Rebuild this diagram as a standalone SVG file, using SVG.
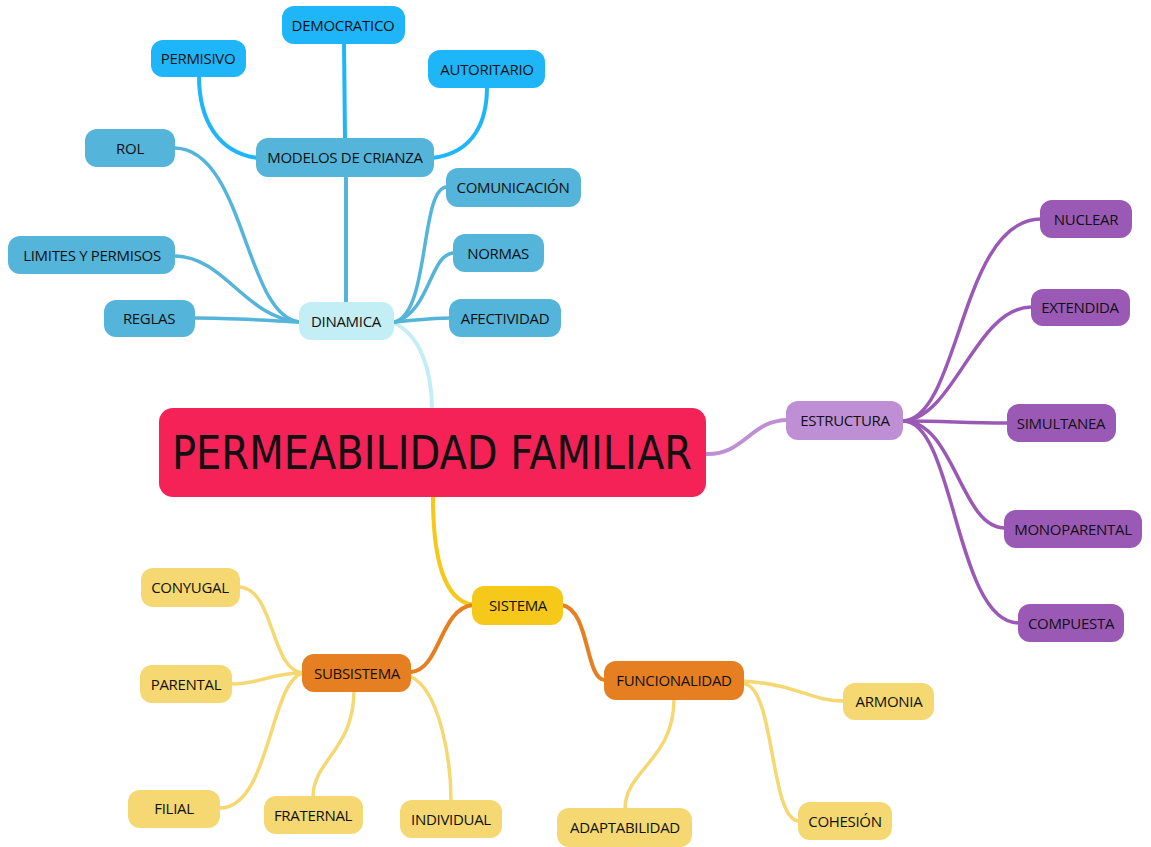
<svg xmlns="http://www.w3.org/2000/svg" width="1151" height="847" viewBox="0 0 1151 847">
<style>
.t{font-family:"Open Sans","Liberation Sans",sans-serif;font-size:15px;fill:#111;text-anchor:middle;dominant-baseline:central;letter-spacing:-0.3px}
.c{fill:none;stroke-linecap:round}
.b1{fill:#1EB6F9}.b2{fill:#54B4D9}.b3{fill:#C4EEF6}
.p1{fill:#BF8FD5}.p2{fill:#9B59B6}
.y1{fill:#F6C81A}.o1{fill:#E67E22}.y2{fill:#F5D872}
</style>
<rect width="1151" height="847" fill="#fff"/>
<g id="connectors">
<path class="c" stroke="#C4EEF6" stroke-width="4" d="M432,410 C432,370 420,335 394,323"/>
<path class="c" stroke="#F6C81A" stroke-width="4" d="M433,497 C433,560 445,602 474,605"/>
<path class="c" stroke="#BF8FD5" stroke-width="4" d="M706,454 C745,455 750,420 788,420"/>
<path class="c" stroke="#54B4D9" stroke-width="4" d="M346,304 L346,176"/>
<path class="c" stroke="#1EB6F9" stroke-width="4" d="M345,140 L344,42"/>
<path class="c" stroke="#1EB6F9" stroke-width="4" d="M258,158 C218,153 199,120 199,76"/>
<path class="c" stroke="#1EB6F9" stroke-width="4" d="M432,158 C475,153 487,120 487,87"/>
<g stroke="#54B4D9" stroke-width="3.5" fill="none" stroke-linecap="round">
<path d="M300,322 C245,318 245,150 175,148"/>
<path d="M300,322 C245,318 225,257 175,256"/>
<path d="M300,322 C260,320 230,318 195,318"/>
<path d="M395,322 C430,312 420,187 447,187"/>
<path d="M395,322 C430,312 430,253 454,253"/>
<path d="M395,322 C420,320 430,318 450,318"/>
</g>
<g stroke="#9B59B6" stroke-width="3.5" fill="none" stroke-linecap="round">
<path d="M903,421 C960,418 960,219 1041,219"/>
<path d="M903,421 C955,418 975,307 1032,307"/>
<path d="M903,421 C950,421 960,423 1008,423"/>
<path d="M903,421 C955,421 960,528 1005,528"/>
<path d="M903,421 C955,421 955,623 1019,623"/>
</g>
<path class="c" stroke="#E67E22" stroke-width="4" d="M473,605 C440,608 440,670 411,672"/>
<path class="c" stroke="#E67E22" stroke-width="4" d="M562,605 C590,610 585,680 605,680"/>
<g stroke="#F5D872" stroke-width="3.5" fill="none" stroke-linecap="round">
<path d="M303,673 C270,670 275,590 240,587"/>
<path d="M303,673 C270,673 260,684 232,684"/>
<path d="M303,673 C270,680 270,808 220,808"/>
<path d="M354,690 C354,750 313,760 313,797"/>
<path d="M410,676 C440,690 451,760 451,801"/>
<path d="M744,681 C800,685 810,701 844,701"/>
<path d="M674,699 C674,760 625,770 625,809"/>
<path d="M745,684 C775,690 770,821 799,821"/>
</g>
</g>
<g id="central"><rect x="159" y="408" width="547" height="89" rx="14" fill="#F52257"/><text x="432" y="453" font-family="'Liberation Sans Narrow','DejaVu Sans Condensed',sans-serif" font-size="46" fill="#111" text-anchor="middle" dominant-baseline="central" textLength="520" lengthAdjust="spacingAndGlyphs">PERMEABILIDAD FAMILIAR</text></g>
<g id="dinamica"><rect class="b3" x="299" y="302" width="95" height="38" rx="12"/><text class="t" x="346" y="321">DINAMICA</text></g>
<g id="modelos"><rect class="b2" x="256" y="138" width="178" height="39" rx="12"/><text class="t" x="345" y="157">MODELOS DE CRIANZA</text></g>
<g id="democratico"><rect class="b1" x="282" y="6" width="123" height="38" rx="12"/><text class="t" x="343" y="25">DEMOCRATICO</text></g>
<g id="permisivo"><rect class="b1" x="151" y="40" width="95" height="37" rx="12"/><text class="t" x="198" y="58">PERMISIVO</text></g>
<g id="autoritario"><rect class="b1" x="428" y="50" width="117" height="38" rx="12"/><text class="t" x="487" y="69">AUTORITARIO</text></g>
<g id="rol"><rect class="b2" x="85" y="129" width="90" height="38" rx="12"/><text class="t" x="130" y="148">ROL</text></g>
<g id="limites"><rect class="b2" x="8" y="236" width="167" height="38" rx="12"/><text class="t" x="92" y="255">LIMITES Y PERMISOS</text></g>
<g id="reglas"><rect class="b2" x="104" y="300" width="91" height="37" rx="12"/><text class="t" x="149" y="318">REGLAS</text></g>
<g id="comunicacion"><rect class="b2" x="446" y="168" width="135" height="39" rx="12"/><text class="t" x="513" y="187">COMUNICACIÓN</text></g>
<g id="normas"><rect class="b2" x="453" y="234" width="91" height="38" rx="12"/><text class="t" x="498" y="253">NORMAS</text></g>
<g id="afectividad"><rect class="b2" x="449" y="299" width="112" height="38" rx="12"/><text class="t" x="505" y="318">AFECTIVIDAD</text></g>
<g id="estructura"><rect class="p1" x="786" y="401" width="117" height="39" rx="12"/><text class="t" x="845" y="420">ESTRUCTURA</text></g>
<g id="nuclear"><rect class="p2" x="1040" y="200" width="92" height="38" rx="12"/><text class="t" x="1086" y="219">NUCLEAR</text></g>
<g id="extendida"><rect class="p2" x="1031" y="289" width="99" height="37" rx="12"/><text class="t" x="1080" y="307">EXTENDIDA</text></g>
<g id="simultanea"><rect class="p2" x="1007" y="404" width="109" height="38" rx="12"/><text class="t" x="1061" y="423">SIMULTANEA</text></g>
<g id="monoparental"><rect class="p2" x="1004" y="510" width="138" height="38" rx="12"/><text class="t" x="1073" y="529">MONOPARENTAL</text></g>
<g id="compuesta"><rect class="p2" x="1018" y="604" width="106" height="38" rx="12"/><text class="t" x="1071" y="623">COMPUESTA</text></g>
<g id="sistema"><rect class="y1" x="472" y="586" width="91" height="39" rx="12"/><text class="t" x="518" y="605">SISTEMA</text></g>
<g id="subsistema"><rect class="o1" x="302" y="654" width="109" height="38" rx="12"/><text class="t" x="357" y="673">SUBSISTEMA</text></g>
<g id="funcionalidad"><rect class="o1" x="604" y="661" width="140" height="39" rx="12"/><text class="t" x="674" y="680">FUNCIONALIDAD</text></g>
<g id="conyugal"><rect class="y2" x="141" y="568" width="99" height="39" rx="12"/><text class="t" x="190" y="587">CONYUGAL</text></g>
<g id="parental"><rect class="y2" x="140" y="665" width="92" height="38" rx="12"/><text class="t" x="186" y="684">PARENTAL</text></g>
<g id="filial"><rect class="y2" x="128" y="790" width="92" height="38" rx="12"/><text class="t" x="174" y="808">FILIAL</text></g>
<g id="fraternal"><rect class="y2" x="264" y="796" width="99" height="38" rx="12"/><text class="t" x="313" y="815">FRATERNAL</text></g>
<g id="individual"><rect class="y2" x="400" y="800" width="102" height="38" rx="12"/><text class="t" x="451" y="819">INDIVIDUAL</text></g>
<g id="armonia"><rect class="y2" x="843" y="683" width="91" height="37" rx="12"/><text class="t" x="889" y="701">ARMONIA</text></g>
<g id="adaptabilidad"><rect class="y2" x="557" y="808" width="135" height="39" rx="12"/><text class="t" x="625" y="827">ADAPTABILIDAD</text></g>
<g id="cohesion"><rect class="y2" x="798" y="802" width="94" height="38" rx="12"/><text class="t" x="845" y="821">COHESIÓN</text></g>
</svg>
